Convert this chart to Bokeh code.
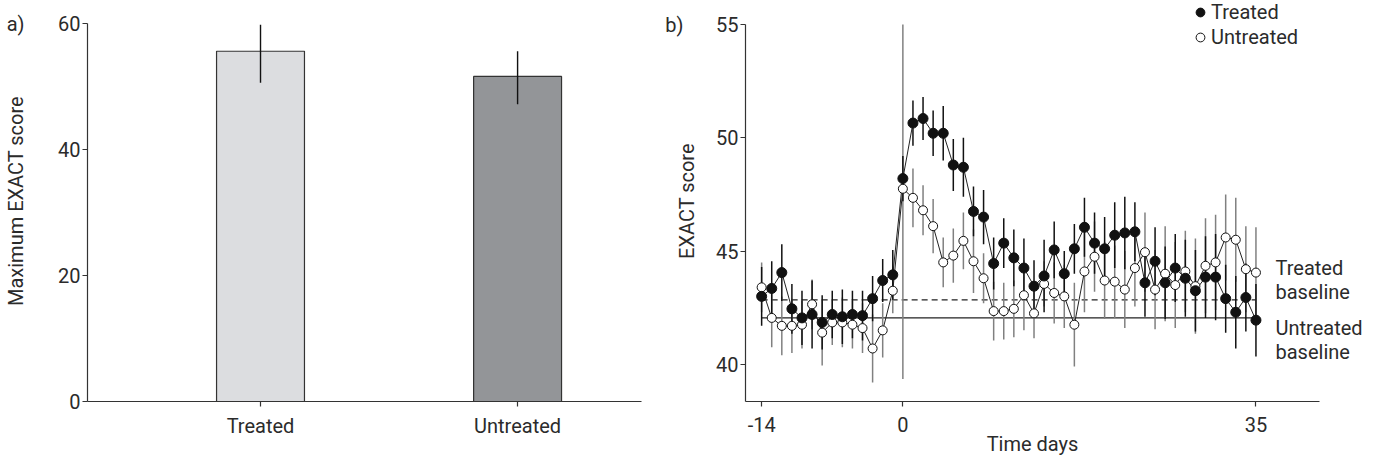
from bokeh.plotting import figure
from bokeh.layouts import row
from bokeh.models import FixedTicker, Legend, LegendItem, LinearAxis
from bokeh.embed import file_html
from bokeh.resources import INLINE

FONT = "Roboto"
TXT = "#2b2b2b"
FS = "20px"

# ---------------- panel a data ----------------
groups = ["Treated", "Untreated"]
max_score = [55.6, 51.6]
max_lo = [50.6, 47.2]
max_hi = [59.8, 55.6]
bar_colors = ["#dcdde0", "#939598"]
y_ticks_a = [0, 20, 40, 60]

# ---------------- panel b data ----------------
days = [-14, -13, -12, -11, -10, -9, -8, -7, -6, -5,
        -4, -3, -2, -1, 0, 1, 2, 3, 4, 5,
        6, 7, 8, 9, 10, 11, 12, 13, 14, 15,
        16, 17, 18, 19, 20, 21, 22, 23, 24, 25,
        26, 27, 28, 29, 30, 31, 32, 33, 34, 35]
treated = [43.0, 43.35, 44.05, 42.45, 42.05, 42.2, 41.85, 42.2, 42.1, 42.2,
           42.15, 42.9, 43.7, 43.95, 48.2, 50.65, 50.85, 50.2, 50.2, 48.8,
           48.7, 46.75, 46.5, 44.45, 45.35, 44.7, 44.25, 43.45, 43.9, 45.05,
           44.0, 45.1, 46.05, 45.35, 45.1, 45.7, 45.8, 45.85, 43.6, 44.55,
           43.6, 44.25, 43.8, 43.25, 43.85, 43.85, 42.9, 42.3, 42.95, 41.95]
treated_err = [1.3, 1.2, 1.25, 1.1, 1.2, 1.5, 1.2, 1.05, 1.2, 1.05,
               1.1, 1.0, 0.95, 1.1, 1.0, 1.0, 0.95, 1.0, 1.2, 1.15,
               1.3, 1.1, 1.2, 1.15, 1.1, 1.25, 1.3, 1.15, 1.6, 1.25,
               1.0, 1.1, 1.3, 1.35, 1.4, 1.45, 1.6, 1.3, 1.5, 1.5,
               1.6, 1.5, 1.7, 1.8, 1.8, 1.9, 1.5, 1.6, 1.5, 1.6]
untreated = [43.4, 42.05, 41.7, 41.7, 41.75, 42.65, 41.4, 41.85, 41.85, 41.75,
             41.6, 40.7, 41.5, 43.25, 47.75, 47.35, 46.8, 46.1, 44.5, 44.8,
             45.45, 44.55, 43.8, 42.35, 42.35, 42.45, 43.05, 42.25, 43.55, 43.15,
             43.0, 41.75, 44.1, 44.75, 43.7, 43.65, 43.3, 44.25, 44.95, 43.3,
             44.0, 43.5, 44.1, 43.45, 44.35, 44.5, 45.6, 45.5, 44.2, 44.05]
untreated_err = [1.1, 1.3, 1.3, 1.2, 1.05, 1.1, 1.45, 1.0, 1.1, 1.05,
                 1.1, 1.5, 1.2, 1.0, 8.4, 1.3, 1.1, 1.2, 1.1, 1.2,
                 1.25, 1.4, 1.1, 1.3, 1.25, 1.25, 1.55, 1.1, 1.0, 1.35,
                 1.4, 1.85, 1.8, 1.55, 1.7, 1.6, 1.7, 1.7, 1.75, 1.75,
                 2.1, 1.9, 1.8, 2.1, 2.1, 2.1, 1.9, 1.85, 1.9, 2.0]
treated_baseline = 42.85
untreated_baseline = 42.05
x_ticks_b = [-14, 0, 35]
x_tick_labels_b = ["-14", "0", "35"]
y_ticks_b = [40, 45, 50, 55]
series_labels = ["Treated", "Untreated"]
baseline_text = [["Treated", "baseline"], ["Untreated", "baseline"]]


def style_axis(ax):
    ax.axis_line_color = "#333333"
    ax.axis_line_width = 1.2
    ax.major_tick_line_color = "#333333"
    ax.major_tick_line_width = 1.2
    ax.major_tick_out = 5
    ax.major_tick_in = 0
    ax.minor_tick_line_color = None
    ax.major_label_text_font = FONT
    ax.major_label_text_font_size = FS
    ax.major_label_text_color = TXT
    ax.axis_label_text_font = FONT
    ax.axis_label_text_font_size = FS
    ax.axis_label_text_font_style = "normal"
    ax.axis_label_text_color = TXT


def bare_axis(ticks, labels, label=None):
    ax = LinearAxis(ticker=FixedTicker(ticks=ticks),
                    major_label_overrides={t: s for t, s in zip(ticks, labels)})
    style_axis(ax)
    ax.axis_line_color = None
    ax.major_tick_line_color = None
    ax.major_tick_out = 0
    if label is not None:
        ax.axis_label = label
    return ax


def style(p):
    p.xgrid.visible = False
    p.ygrid.visible = False
    p.outline_line_color = None
    p.background_fill_color = "white"
    p.border_fill_color = "white"
    style_axis(p.xaxis[0])
    style_axis(p.yaxis[0])


# ---------------- panel a ----------------
xpos = list(range(len(groups)))
p1 = figure(width=660, height=460, x_range=(-0.673, 1.482), y_range=(0, 63.66),
            output_backend="svg", toolbar_location=None, title=None,
            min_border_left=80, min_border_right=19, min_border_top=0, min_border_bottom=59)
p1.vbar(x=xpos, top=max_score, bottom=0, width=0.342, fill_color=bar_colors,
        line_color="#333333", line_width=1.2)
p1.segment(x0=xpos, y0=max_lo, x1=xpos, y1=max_hi, line_color="#111111", line_width=1.4)
style(p1)
p1.xaxis.ticker = FixedTicker(ticks=xpos)
p1.xaxis.major_label_overrides = {i: g for i, g in zip(xpos, groups)}
p1.xaxis.major_label_standoff = 7
p1.yaxis.ticker = FixedTicker(ticks=y_ticks_a)
p1.yaxis.bounds = (y_ticks_a[0], y_ticks_a[-1])
p1.yaxis.major_label_standoff = 2
lab_a = bare_axis([y_ticks_a[-1]], ["a)"], "Maximum EXACT score")
lab_a.major_label_standoff = 31
lab_a.axis_label_standoff = -24
p1.add_layout(lab_a, "left")

# ---------------- panel b ----------------
p2 = figure(width=705, height=460, x_range=(-15.6, 41.3), y_range=(38.36, 56.06),
            output_backend="svg", toolbar_location=None, title=None,
            min_border_left=85, min_border_right=44, min_border_top=0, min_border_bottom=59)
style(p2)
top_b = y_ticks_b[-1]
u_lo = [v - e for v, e in zip(untreated, untreated_err)]
u_hi = [min(v + e, top_b) for v, e in zip(untreated, untreated_err)]
t_lo = [v - e for v, e in zip(treated, treated_err)]
t_hi = [min(v + e, top_b) for v, e in zip(treated, treated_err)]

p2.line(x=[days[0], days[-1]], y=[treated_baseline, treated_baseline],
        line_color="#222222", line_width=1.3, line_dash="6 4")
p2.line(x=[days[0], days[-1]], y=[untreated_baseline, untreated_baseline],
        line_color="#222222", line_width=1.3)
p2.segment(x0=days, y0=u_lo, x1=days, y1=u_hi, line_color="#808080", line_width=1.5)
p2.segment(x0=days, y0=t_lo, x1=days, y1=t_hi, line_color="#111111", line_width=1.5)
p2.line(x=days, y=untreated, line_color="#222222", line_width=1)
p2.line(x=days, y=treated, line_color="#222222", line_width=1)
r_u = p2.scatter(x=days, y=untreated, size=9, marker="circle", fill_color="white",
                 line_color="#111111", line_width=1)
r_t = p2.scatter(x=days, y=treated, size=10, marker="circle", fill_color="#111111",
                 line_color="#111111", line_width=1)

p2.xaxis.ticker = FixedTicker(ticks=x_ticks_b)
p2.xaxis.major_label_overrides = {t: s for t, s in zip(x_ticks_b, x_tick_labels_b)}
p2.yaxis.ticker = FixedTicker(ticks=y_ticks_b)
p2.xaxis.bounds = (-15.6, 41.3)
p2.yaxis.bounds = (38.36, y_ticks_b[-1])
p2.xaxis.axis_label = "Time days"
p2.xaxis.major_label_standoff = 10
p2.xaxis.axis_label_standoff = -3
p2.yaxis.major_label_standoff = 2
lab_b = bare_axis([y_ticks_b[-1]], ["b)"], "EXACT score")
lab_b.major_label_standoff = 30
lab_b.axis_label_standoff = -37
p2.add_layout(lab_b, "left")

# baseline annotations on the right
bl_ticks = [treated_baseline + 1.4, treated_baseline + 0.34,
            untreated_baseline - 0.46, untreated_baseline - 1.52]
bl_labels = baseline_text[0] + baseline_text[1]
right_ax = bare_axis(bl_ticks, bl_labels)
right_ax.major_label_standoff = -44
p2.add_layout(right_ax, "right")

legend = Legend(items=[LegendItem(label=series_labels[0], renderers=[r_t]),
                       LegendItem(label=series_labels[1], renderers=[r_u])],
                location=(444, 352), label_text_font=FONT, label_text_font_size=FS,
                label_text_color=TXT, glyph_width=22, glyph_height=22, label_height=22,
                label_standoff=0, spacing=1, padding=0, margin=0,
                border_line_color=None, background_fill_alpha=0)
p2.add_layout(legend)

layout = row(p1, p2)
open("out.html", "w").write(file_html(layout, INLINE))
